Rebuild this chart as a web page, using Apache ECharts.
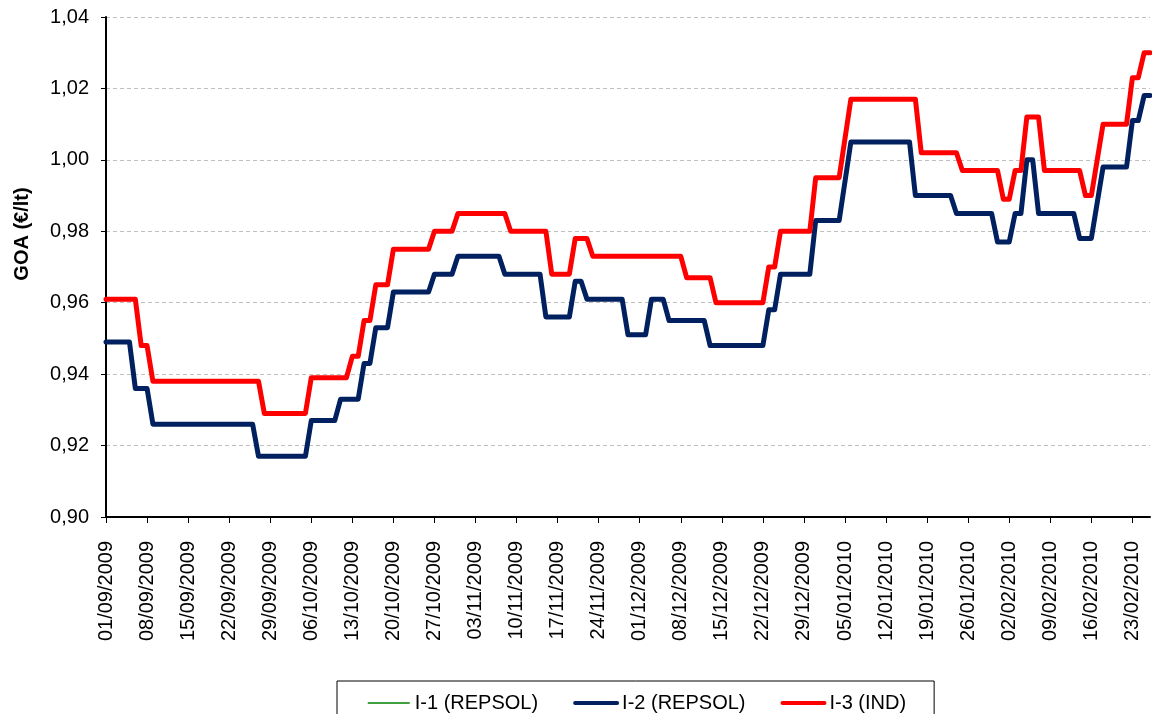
<!DOCTYPE html>
<html>
<head>
<meta charset="utf-8">
<title>GOA</title>
<script src="https://cdn.jsdelivr.net/npm/echarts@6/dist/echarts.min.js"></script>
<style>
  html, body { margin: 0; padding: 0; background: #ffffff; }
  #chart { width: 1152px; height: 714px; }
</style>
</head>
<body>
<div id="chart"></div>
<script>
// Daily calendar from 01/09/2009 to 26/02/2010
const startDate = Date.UTC(2009, 8, 1);
const dayCount = 179;

// Y axis tick labels (comma decimal)
const yTickValues = [0.90, 0.92, 0.94, 0.96, 0.98, 1.00, 1.02, 1.04];
const yTickLabels = ['0,90', '0,92', '0,94', '0,96', '0,98', '1,00', '1,02', '1,04'];

const seriesNames = ['I-1 (REPSOL)', 'I-2 (REPSOL)', 'I-3 (IND)'];

// I-1 (REPSOL): legend entry only
const i1 = [];

// I-2 (REPSOL), one value per calendar day (one row per week)
const i2 = [
  0.949, 0.949, 0.949, 0.949, 0.949, 0.936, 0.936,
  0.936, 0.926, 0.926, 0.926, 0.926, 0.926, 0.926,
  0.926, 0.926, 0.926, 0.926, 0.926, 0.926, 0.926,
  0.926, 0.926, 0.926, 0.926, 0.926, 0.917, 0.917,
  0.917, 0.917, 0.917, 0.917, 0.917, 0.917, 0.917,
  0.927, 0.927, 0.927, 0.927, 0.927, 0.933, 0.933,
  0.933, 0.933, 0.943, 0.943, 0.953, 0.953, 0.953,
  0.963, 0.963, 0.963, 0.963, 0.963, 0.963, 0.963,
  0.968, 0.968, 0.968, 0.968, 0.973, 0.973, 0.973,
  0.973, 0.973, 0.973, 0.973, 0.973, 0.968, 0.968,
  0.968, 0.968, 0.968, 0.968, 0.968, 0.956, 0.956,
  0.956, 0.956, 0.956, 0.966, 0.966, 0.961, 0.961,
  0.961, 0.961, 0.961, 0.961, 0.961, 0.951, 0.951,
  0.951, 0.951, 0.961, 0.961, 0.961, 0.955, 0.955,
  0.955, 0.955, 0.955, 0.955, 0.955, 0.948, 0.948,
  0.948, 0.948, 0.948, 0.948, 0.948, 0.948, 0.948,
  0.948, 0.958, 0.958, 0.968, 0.968, 0.968, 0.968,
  0.968, 0.968, 0.983, 0.983, 0.983, 0.983, 0.983,
  null,  1.005, 1.005, 1.005, 1.005, 1.005, 1.005,
  1.005, 1.005, 1.005, 1.005, 1.005, 0.990, 0.990,
  0.990, 0.990, 0.990, 0.990, 0.990, 0.985, 0.985,
  0.985, 0.985, 0.985, 0.985, 0.985, 0.977, 0.977,
  0.977, 0.985, 0.985, 1.000, 1.000, 0.985, 0.985,
  0.985, 0.985, 0.985, 0.985, 0.985, 0.978, 0.978,
  0.978, null,  0.998, 0.998, 0.998, 0.998, 0.998,
  1.011, 1.011, 1.018, 1.018
];

// I-3 (IND), one value per calendar day (one row per week)
const i3 = [
  0.961, 0.961, 0.961, 0.961, 0.961, 0.961, 0.948,
  0.948, 0.938, 0.938, 0.938, 0.938, 0.938, 0.938,
  0.938, 0.938, 0.938, 0.938, 0.938, 0.938, 0.938,
  0.938, 0.938, 0.938, 0.938, 0.938, 0.938, 0.929,
  0.929, 0.929, 0.929, 0.929, 0.929, 0.929, 0.929,
  0.939, 0.939, 0.939, 0.939, 0.939, 0.939, 0.939,
  0.945, 0.945, 0.955, 0.955, 0.965, 0.965, 0.965,
  0.975, 0.975, 0.975, 0.975, 0.975, 0.975, 0.975,
  0.980, 0.980, 0.980, 0.980, 0.985, 0.985, 0.985,
  0.985, 0.985, 0.985, 0.985, 0.985, 0.985, 0.980,
  0.980, 0.980, 0.980, 0.980, 0.980, 0.980, 0.968,
  0.968, 0.968, 0.968, 0.978, 0.978, 0.978, 0.973,
  0.973, 0.973, 0.973, 0.973, 0.973, 0.973, 0.973,
  0.973, 0.973, 0.973, 0.973, 0.973, 0.973, 0.973,
  0.973, 0.967, 0.967, 0.967, 0.967, 0.967, 0.960,
  0.960, 0.960, 0.960, 0.960, 0.960, 0.960, 0.960,
  0.960, 0.970, 0.970, 0.980, 0.980, 0.980, 0.980,
  0.980, 0.980, 0.995, 0.995, 0.995, 0.995, 0.995,
  null,  1.017, 1.017, 1.017, 1.017, 1.017, 1.017,
  1.017, 1.017, 1.017, 1.017, 1.017, 1.017, 1.002,
  1.002, 1.002, 1.002, 1.002, 1.002, 1.002, 0.997,
  0.997, 0.997, 0.997, 0.997, 0.997, 0.997, 0.989,
  0.989, 0.997, 0.997, 1.012, 1.012, 1.012, 0.997,
  0.997, 0.997, 0.997, 0.997, 0.997, 0.997, 0.990,
  0.990, null,  1.010, 1.010, 1.010, 1.010, 1.010,
  1.023, 1.023, 1.030, 1.030
];

const colors = ['#008000', '#002060', '#ff0000'];
const legendLineWidths = [1.5, 4, 4];

function pad2(n) { return (n < 10 ? '0' : '') + n; }
const categories = [];
for (let i = 0; i < dayCount; i++) {
  const d = new Date(startDate + i * 86400000);
  categories.push(pad2(d.getUTCDate()) + '/' + pad2(d.getUTCMonth() + 1) + '/' + d.getUTCFullYear());
}

const font = 'Liberation Sans, Arial, sans-serif';
const chart = echarts.init(document.getElementById('chart'), null, { renderer: 'canvas' });

chart.setOption({
  animation: false,
  backgroundColor: '#ffffff',
  color: colors,
  grid: { left: 106, top: 17, right: 2, bottom: 197, containLabel: false },
  graphic: [{
    type: 'text',
    x: 22, y: 234,
    rotation: Math.PI / 2,
    style: {
      text: 'GOA (€/lt)',
      font: 'bold 20px ' + font,
      fill: '#000000',
      align: 'center',
      verticalAlign: 'middle'
    }
  }],
  legend: {
    data: seriesNames.map(function (n, i) {
      return { name: n, lineStyle: { width: legendLineWidths[i], color: colors[i] } };
    }),
    left: 337, top: 681,
    orient: 'horizontal',
    itemWidth: 42, itemHeight: 14, itemGap: 35,
    padding: [12, 28, 12, 30],
    borderColor: '#000000', borderWidth: 1,
    itemStyle: { opacity: 0 },
    textStyle: { fontFamily: font, fontSize: 20, color: '#000000' }
  },
  xAxis: {
    type: 'category',
    data: categories,
    boundaryGap: false,
    axisLine: { show: true, lineStyle: { color: '#000000', width: 2 } },
    axisTick: { show: true, inside: false, length: 6, interval: 6, lineStyle: { color: '#000000', width: 1 } },
    axisLabel: { interval: 6, rotate: 90, margin: 24, fontFamily: font, fontSize: 20, color: '#000000' },
    splitLine: { show: false }
  },
  yAxis: {
    type: 'value',
    min: 0.90, max: 1.04, interval: 0.02,
    axisLine: { show: true, lineStyle: { color: '#000000', width: 2 } },
    axisTick: { show: true, inside: false, length: 5, lineStyle: { color: '#000000', width: 1 } },
    axisLabel: {
      margin: 17, fontFamily: font, fontSize: 20, color: '#000000',
      formatter: function (v) {
        for (let i = 0; i < yTickValues.length; i++) {
          if (Math.abs(yTickValues[i] - v) < 1e-6) return yTickLabels[i];
        }
        return '';
      }
    },
    splitLine: { show: true, lineStyle: { color: '#c0c0c0', width: 1, type: [4, 3] } }
  },
  series: [
    { name: seriesNames[0], type: 'line', data: i1, symbol: 'none', lineStyle: { width: 1.5, color: colors[0] } },
    { name: seriesNames[1], type: 'line', data: i2, symbol: 'none', connectNulls: true,
      lineStyle: { width: 5, color: colors[1], join: 'round', cap: 'round' } },
    { name: seriesNames[2], type: 'line', data: i3, symbol: 'none', connectNulls: true,
      lineStyle: { width: 5, color: colors[2], join: 'round', cap: 'round' } }
  ]
});
</script>
</body>
</html>
